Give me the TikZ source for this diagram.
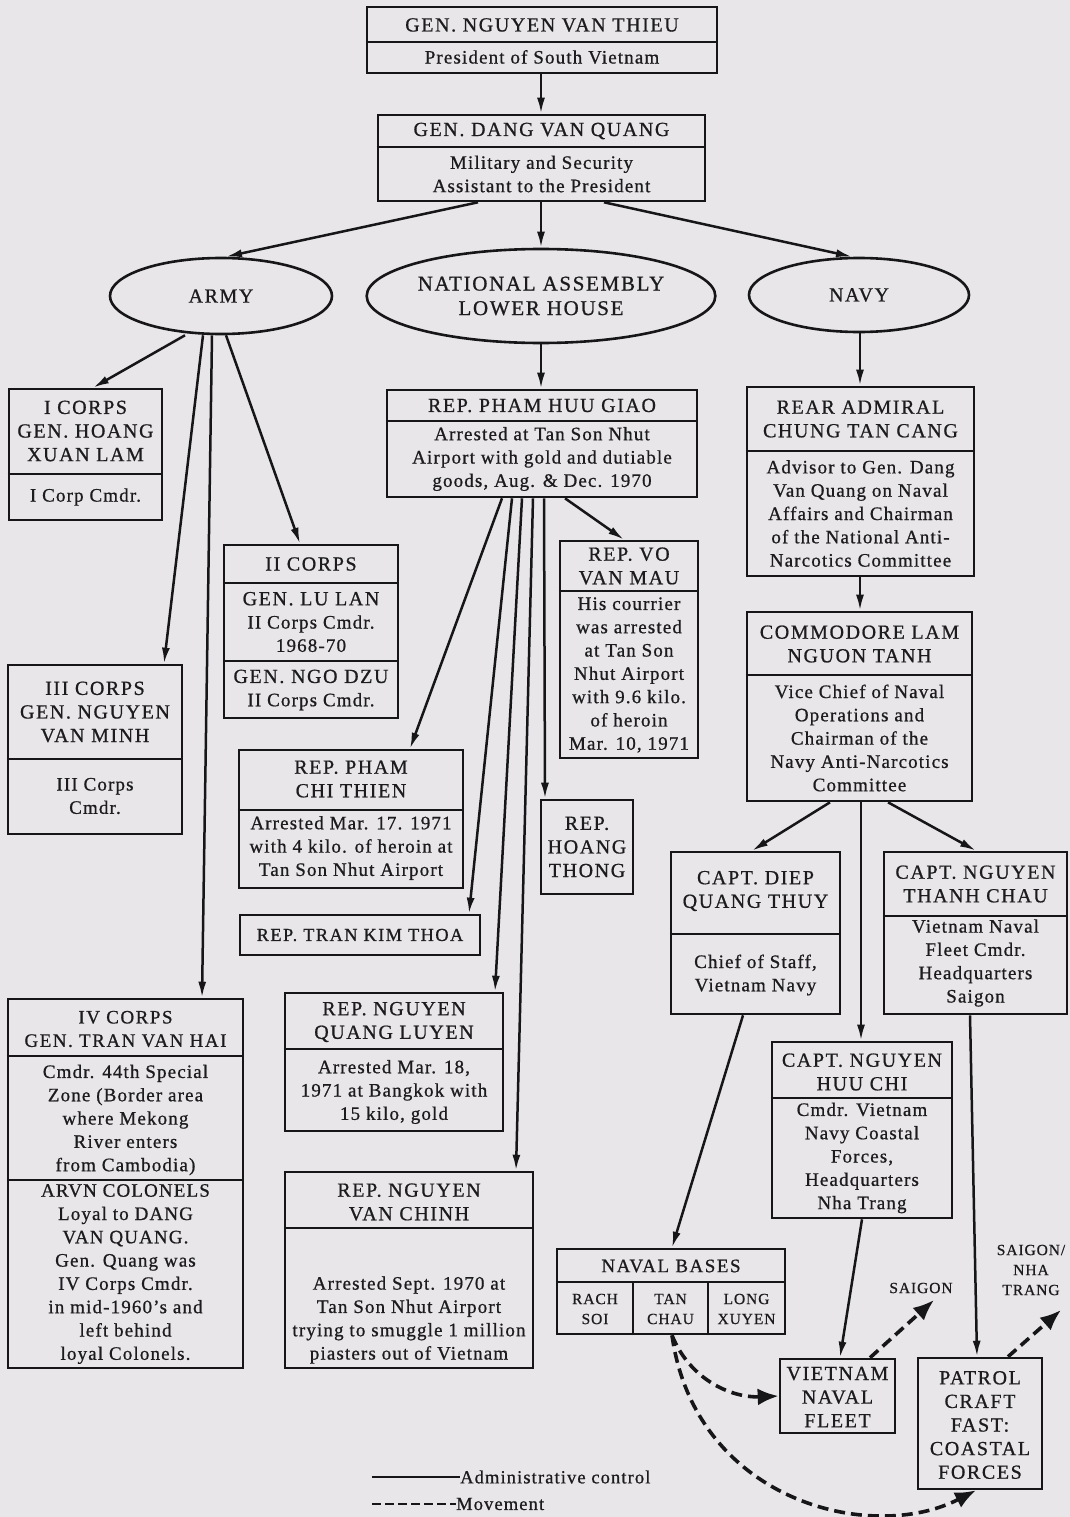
\documentclass[tikz,border=0pt]{standalone}
\usepackage{fontspec}
\setmainfont{Liberation Serif}[LetterSpace=6,FakeBold=0.8]
\newfontfamily\capsfam{Liberation Serif}[LetterSpace=8,FakeBold=0.8]
\usetikzlibrary{arrows.meta,shapes.geometric,fit}
\definecolor{bg}{RGB}{233,230,234}
\definecolor{ink}{RGB}{22,22,25}
\definecolor{txt}{RGB}{28,28,30}
\newcommand\FTop{\capsfam\fontsize{20}{24}\selectfont}
\newcommand\FTtl{\capsfam\fontsize{20}{23.6}\selectfont}
\newcommand\FBdy{\fontsize{19}{23.3}\selectfont}
\newcommand\FSml{\fontsize{15.5}{20}\selectfont}
\begin{document}
\begin{tikzpicture}[x=1pt,y=-1pt,
 box/.style={draw=ink,line width=2.6pt,inner sep=0pt},
 ell/.style={ellipse,draw=ink,line width=2.6pt,inner sep=0pt,text=txt,align=center,font=\FTtl},
 tt/.style={text=txt,align=center,inner sep=0pt,font=\FTtl},
 bd/.style={text=txt,align=center,inner sep=0pt,font=\FBdy},
 sm/.style={text=txt,align=center,inner sep=0pt,font=\FSml},
 dv/.style={draw=ink,line width=2pt},
 arr/.style={draw=ink,line width=2.5pt,-{Latex[length=16pt,width=8pt]}},
 mov/.style={draw=ink,line width=3.6pt,dash pattern=on 11pt off 6pt,-{Latex[length=21pt,width=17pt]}},
 leg/.style={draw=ink,line width=2.8pt}]

\useasboundingbox (0,0) rectangle (1070,1517);
\fill[bg] (0,0) rectangle (1070,1517);

% ---------- boxes ----------
\node[box,fit={(367,7) (717,73)}] (thieu) {};
\draw[dv] (thieu.west |- 0,42) -- (thieu.east |- 0,42);
\node[tt,font=\FTop] (thieu-t) at (542,25) {GEN. NGUYEN VAN THIEU};
\node[bd] (thieu-b) at (542,57) {President of South Vietnam};

\node[box,fit={(378,115) (705,201)}] (quang) {};
\draw[dv] (quang.west |- 0,147) -- (quang.east |- 0,147);
\node[tt,font=\FTop] (quang-t) at (541.5,131) {GEN. DANG VAN QUANG};
\node[bd] (quang-b) at (541.5,174) {Military and Security\\Assistant to the President};

\node[ell,minimum width=222pt,minimum height=76pt] (army) at (221,296) {ARMY};
\node[ell,minimum width=286pt,minimum height=94pt,font={\capsfam\fontsize{21}{24.5}\selectfont}] (na) at (541,296) {NATIONAL ASSEMBLY\\LOWER HOUSE};
\node[ell,minimum width=220pt,minimum height=74pt] (navy) at (859,295) {NAVY};

\node[box,fit={(9,389) (162,520)}] (icorps) {};
\draw[dv] (icorps.west |- 0,474) -- (icorps.east |- 0,474);
\node[tt] (icorps-t) at (85.5,431) {I CORPS\\GEN. HOANG\\XUAN LAM};
\node[bd] (icorps-b) at (85.5,497) {I Corp Cmdr.};

\node[box,fit={(387,390) (697,497)}] (giao) {};
\draw[dv] (giao.west |- 0,421) -- (giao.east |- 0,421);
\node[tt] (giao-t) at (542,405.5) {REP. PHAM HUU GIAO};
\node[bd] (giao-b) at (542,459) {Arrested at Tan Son Nhut\\Airport with gold and dutiable\\goods, Aug. \& Dec. 1970};

\node[box,fit={(747,387) (974,576)}] (admiral) {};
\draw[dv] (admiral.west |- 0,451) -- (admiral.east |- 0,451);
\node[tt] (admiral-t) at (860.5,419) {REAR ADMIRAL\\CHUNG TAN CANG};
\node[bd] (admiral-b) at (860.5,513.5) {Advisor to Gen. Dang\\Van Quang on Naval\\Affairs and Chairman\\of the National Anti-\\Narcotics Committee};

\node[box,fit={(224,545) (398,718)}] (iicorps) {};
\draw[dv] (iicorps.west |- 0,583) -- (iicorps.east |- 0,583);
\draw[dv] (iicorps.west |- 0,661) -- (iicorps.east |- 0,661);
\node[tt] (iicorps-t) at (311,564) {II CORPS};
\node[bd] (iicorps-m) at (311,622) {{\FTtl GEN. LU LAN}\\II Corps Cmdr.\\1968-70};
\node[bd] (iicorps-b) at (311,690) {{\FTtl GEN. NGO DZU}\\II Corps Cmdr.};

\node[box,fit={(560,541) (698,758)}] (vo) {};
\draw[dv] (vo.west |- 0,591) -- (vo.east |- 0,591);
\node[tt] (vo-t) at (629,566) {REP. VO\\VAN MAU};
\node[bd] (vo-b) at (629,675) {His courrier\\was arrested\\at Tan Son\\Nhut Airport\\with 9.6 kilo.\\of heroin\\Mar. 10, 1971};

\node[box,fit={(747,612) (972,801)}] (commodore) {};
\draw[dv] (commodore.west |- 0,675) -- (commodore.east |- 0,675);
\node[tt] (commodore-t) at (859.5,644) {COMMODORE LAM\\NGUON TANH};
\node[bd] (commodore-b) at (859.5,738) {Vice Chief of Naval\\Operations and\\Chairman of the\\Navy Anti-Narcotics\\Committee};

\node[box,fit={(8,665) (182,834)}] (iiicorps) {};
\draw[dv] (iiicorps.west |- 0,759) -- (iiicorps.east |- 0,759);
\node[tt] (iiicorps-t) at (95,712) {III CORPS\\GEN. NGUYEN\\VAN MINH};
\node[bd] (iiicorps-b) at (95,796) {III Corps\\Cmdr.};

\node[box,fit={(239,750) (463,888)}] (chithien) {};
\draw[dv] (chithien.west |- 0,810) -- (chithien.east |- 0,810);
\node[tt] (chithien-t) at (351,779) {REP. PHAM\\CHI THIEN};
\node[bd] (chithien-b) at (351,848) {Arrested Mar. 17. 1971\\with 4 kilo. of heroin at\\Tan Son Nhut Airport};

\node[box,fit={(541,800) (633,894)}] (hoang) {};
\node[tt] (hoang-t) at (587,847) {REP.\\HOANG\\THONG};

\node[box,fit={(671,852) (840,1014)}] (diep) {};
\draw[dv] (diep.west |- 0,934) -- (diep.east |- 0,934);
\node[tt] (diep-t) at (755.5,891) {CAPT. DIEP\\QUANG THUY};
\node[bd] (diep-b) at (755.5,975) {Chief of Staff,\\Vietnam Navy};

\node[box,fit={(884,852) (1067,1014)}] (thanh) {};
\draw[dv] (thanh.west |- 0,916) -- (thanh.east |- 0,916);
\node[tt] (thanh-t) at (975.5,884) {CAPT. NGUYEN\\THANH CHAU};
\node[bd] (thanh-b) at (975.5,963) {Vietnam Naval\\Fleet Cmdr.\\Headquarters\\Saigon};

\node[box,fit={(240,915) (480,955)}] (thoa) {};
\node[tt,font={\capsfam\fontsize{18.3}{22}\selectfont}] (thoa-t) at (360,935) {REP. TRAN KIM THOA};

\node[box,fit={(8,999) (243,1368)}] (ivcorps) {};
\draw[dv] (ivcorps.west |- 0,1056) -- (ivcorps.east |- 0,1056);
\draw[dv] (ivcorps.west |- 0,1180) -- (ivcorps.east |- 0,1180);
\node[tt,font={\capsfam\fontsize{19}{23.4}\selectfont}] (ivcorps-t) at (125.5,1029) {IV CORPS\\GEN. TRAN VAN HAI};
\node[bd] (ivcorps-m) at (125.5,1120) {Cmdr. 44th Special\\Zone (Border area\\where Mekong\\River enters\\from Cambodia)};
\node[bd] (ivcorps-b) at (125.5,1274) {ARVN COLONELS\\Loyal to DANG\\VAN QUANG.\\Gen. Quang was\\IV Corps Cmdr.\\in mid-1960's and\\left behind\\loyal Colonels.};

\node[box,fit={(285,993) (503,1131)}] (luyen) {};
\draw[dv] (luyen.west |- 0,1049) -- (luyen.east |- 0,1049);
\node[tt] (luyen-t) at (394,1022) {REP. NGUYEN\\QUANG LUYEN};
\node[bd] (luyen-b) at (394,1092) {Arrested Mar. 18,\\1971 at Bangkok with\\15 kilo, gold};

\node[box,fit={(285,1172) (533,1368)}] (chinh) {};
\draw[dv] (chinh.west |- 0,1228) -- (chinh.east |- 0,1228);
\node[tt] (chinh-t) at (409,1202) {REP. NGUYEN\\VAN CHINH};
\node[bd] (chinh-b) at (409,1320) {Arrested Sept. 1970 at\\Tan Son Nhut Airport\\trying to smuggle 1 million\\piasters out of Vietnam};

\node[box,fit={(772,1042) (952,1218)}] (huuchi) {};
\draw[dv] (huuchi.west |- 0,1098) -- (huuchi.east |- 0,1098);
\node[tt] (huuchi-t) at (862,1072) {CAPT. NGUYEN\\HUU CHI};
\node[bd] (huuchi-b) at (862,1158) {Cmdr. Vietnam\\Navy Coastal\\Forces,\\Headquarters\\Nha Trang};

\node[box,fit={(557,1249) (785,1334)}] (bases) {};
\draw[dv] (bases.west |- 0,1282) -- (bases.east |- 0,1282);
\draw[dv] (bases.south -| 633,0) -- (633,1282);
\draw[dv] (bases.south -| 708,0) -- (708,1282);
\node[tt,font={\capsfam\fontsize{19}{22}\selectfont}] (bases-t) at (671,1266) {NAVAL BASES};
\node[sm] (bases-a) at (595,1309) {RACH\\SOI};
\node[sm] (bases-b) at (670.5,1309) {TAN\\CHAU};
\node[sm] (bases-c) at (746.5,1309) {LONG\\XUYEN};

\node[box,fit={(780,1359) (895,1433)}] (fleet) {};
\node[tt] (fleet-t) at (837.5,1397) {VIETNAM\\NAVAL\\FLEET};

\node[box,fit={(918,1358) (1042,1489)}] (patrol) {};
\node[tt] (patrol-t) at (980,1425) {PATROL\\CRAFT\\FAST:\\COASTAL\\FORCES};

\node[sm] (saigon) at (921,1288) {SAIGON};
\node[sm] (snt) at (1031,1270) {SAIGON/\\NHA\\TRANG};
\coordinate (sgend) at (934,1300);
\coordinate (sntend) at (1061,1310);

% ---------- administrative connectors ----------
\draw[arr] (thieu.south -| 541,0) -- (quang.north -| 541,0);
\draw[arr] (quang.south -| 478,0) -- (army.north -| 226,0);
\draw[arr] (quang.south -| 541,0) -- (na.north);
\draw[arr] (quang.south -| 604,0) -- (navy.north -| 852,0);

\draw[arr] (army.south -| 185,0) -- (icorps.north -| 93,0);
\draw[arr] (army.south -| 203,0) -- (iiicorps.north -| 164,0);
\draw[arr] (army.south -| 212,0) -- (ivcorps.north -| 202,0);
\draw[arr] (army.south -| 226,0) -- (iicorps.north -| 300,0);

\draw[arr] (na.south) -- (giao.north -| 541,0);
\draw[arr] (giao.south -| 502,0) -- (chithien.north -| 410,0);
\draw[arr] (giao.south -| 512,0) -- (thoa.north -| 469,0);
\draw[arr] (giao.south -| 522,0) -- (luyen.north -| 495,0);
\draw[arr] (giao.south -| 533,0) -- (chinh.north -| 516,0);
\draw[arr] (giao.south -| 544,0) -- (hoang.north -| 545,0);
\draw[arr] (giao.south -| 565,0) -- (vo.north -| 624,0);

\draw[arr] (navy.south -| 860,0) -- (admiral.north -| 860,0);
\draw[arr] (admiral.south -| 860,0) -- (commodore.north -| 860,0);
\draw[arr] (commodore.south -| 830,0) -- (diep.north -| 752,0);
\draw[arr] (commodore.south -| 888,0) -- (thanh.north -| 976,0);
\draw[arr] (commodore.south -| 861,0) -- (huuchi.north -| 861,0);
\draw[arr] (diep.south -| 743,0) -- (bases.north -| 672,0);
\draw[arr] (thanh.south -| 970,0) -- (patrol.north -| 977,0);
\draw[arr] (huuchi.south -| 862,0) -- (fleet.north -| 840,0);

% ---------- movement ----------
\draw[mov] (bases.south -| 672,0) .. controls (690,1380) and (732,1398) .. (fleet.west);
\draw[mov] (bases.south -| 672,0) .. controls (695,1500) and (870,1545) .. (patrol.south -| 976,0);
\draw[mov] (fleet.north -| 870,0) -- (sgend);
\draw[mov] (patrol.north -| 1008,0) -- (sntend);

% ---------- legend ----------
\coordinate (la) at (372,1477);
\coordinate (lb) at (460,1477);
\coordinate (lc) at (372,1504);
\coordinate (ld) at (456,1504);
\draw[leg] (la) -- (lb);
\draw[leg,dash pattern=on 9pt off 4pt] (lc) -- (ld);
\node[bd,anchor=west,font=\fontsize{18.5}{22}\selectfont] (legA) at (lb) {Administrative control};
\node[bd,anchor=west,font=\fontsize{18.5}{22}\selectfont] (legB) at (ld) {Movement};
\end{tikzpicture}
\end{document}
